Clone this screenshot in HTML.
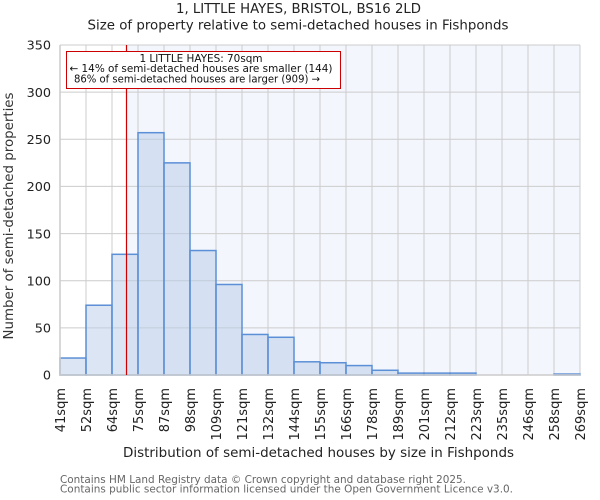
<!DOCTYPE html>
<html><head><meta charset="utf-8"><style>
html,body{margin:0;padding:0;background:#fff;}
svg{display:block;font-family:"DejaVu Sans","Liberation Sans",sans-serif;}
</style></head><body>
<svg width="600" height="500" viewBox="0 0 600 500" xmlns="http://www.w3.org/2000/svg">
<rect x="0" y="0" width="600" height="500" fill="#fff"/>
<!-- shaded region right of property line -->
<rect x="126.5" y="45" width="453.5" height="330" fill="#f3f6fd"/>
<!-- grid -->
<g stroke="#cccccc" stroke-width="1">
<line x1="60" y1="45" x2="580" y2="45"/>
<line x1="60" y1="92.14" x2="580" y2="92.14"/>
<line x1="60" y1="139.29" x2="580" y2="139.29"/>
<line x1="60" y1="186.43" x2="580" y2="186.43"/>
<line x1="60" y1="233.57" x2="580" y2="233.57"/>
<line x1="60" y1="280.71" x2="580" y2="280.71"/>
<line x1="60" y1="327.86" x2="580" y2="327.86"/>
<line x1="86" y1="45" x2="86" y2="375"/>
<line x1="112" y1="45" x2="112" y2="375"/>
<line x1="138" y1="45" x2="138" y2="375"/>
<line x1="164" y1="45" x2="164" y2="375"/>
<line x1="190" y1="45" x2="190" y2="375"/>
<line x1="216" y1="45" x2="216" y2="375"/>
<line x1="242" y1="45" x2="242" y2="375"/>
<line x1="268" y1="45" x2="268" y2="375"/>
<line x1="294" y1="45" x2="294" y2="375"/>
<line x1="320" y1="45" x2="320" y2="375"/>
<line x1="346" y1="45" x2="346" y2="375"/>
<line x1="372" y1="45" x2="372" y2="375"/>
<line x1="398" y1="45" x2="398" y2="375"/>
<line x1="424" y1="45" x2="424" y2="375"/>
<line x1="450" y1="45" x2="450" y2="375"/>
<line x1="476" y1="45" x2="476" y2="375"/>
<line x1="502" y1="45" x2="502" y2="375"/>
<line x1="528" y1="45" x2="528" y2="375"/>
<line x1="554" y1="45" x2="554" y2="375"/>
<line x1="580" y1="45" x2="580" y2="375"/>
</g>
<!-- bars -->
<g fill="rgba(183,203,231,0.5)" stroke="#5b8fd6" stroke-width="1.5">
<rect x="60" y="358.03" width="26" height="16.97"/>
<rect x="86" y="305.23" width="26" height="69.77"/>
<rect x="112" y="254.31" width="26" height="120.69"/>
<rect x="138" y="132.69" width="26" height="242.31"/>
<rect x="164" y="162.86" width="26" height="212.14"/>
<rect x="190" y="250.54" width="26" height="124.46"/>
<rect x="216" y="284.49" width="26" height="90.51"/>
<rect x="242" y="334.46" width="26" height="40.54"/>
<rect x="268" y="337.29" width="26" height="37.71"/>
<rect x="294" y="361.8" width="26" height="13.2"/>
<rect x="320" y="362.74" width="26" height="12.26"/>
<rect x="346" y="365.57" width="26" height="9.43"/>
<rect x="372" y="370.29" width="26" height="4.71"/>
<rect x="398" y="373.11" width="26" height="1.89"/>
<rect x="424" y="373.11" width="26" height="1.89"/>
<rect x="450" y="373.11" width="26" height="1.89"/>
<rect x="554" y="374.06" width="26" height="0.94"/>
</g>
<!-- spines -->
<line x1="60" y1="45" x2="60" y2="375.5" stroke="#cccccc" stroke-width="1.5"/>
<line x1="59.5" y1="375" x2="580.5" y2="375" stroke="#cccccc" stroke-width="1.5"/>
<!-- property line -->
<line x1="126.5" y1="45" x2="126.5" y2="375" stroke="#cc0000" stroke-width="1.2"/>
<!-- annotation -->
<rect x="66.5" y="51.5" width="274" height="37" fill="#fff" stroke="#cc0000" stroke-width="1"/>
<g font-size="10.4" fill="#111" text-anchor="middle">
<text x="201" y="62" textLength="123" lengthAdjust="spacingAndGlyphs">1 LITTLE HAYES: 70sqm</text>
<text x="201" y="72" textLength="263" lengthAdjust="spacingAndGlyphs">← 14% of semi-detached houses are smaller (144)</text>
<text x="197" y="82.3" textLength="246" lengthAdjust="spacingAndGlyphs">86% of semi-detached houses are larger (909) →</text>
</g>
<!-- title -->
<g fill="#222" text-anchor="middle" font-size="13">
<text x="298.5" y="13" textLength="245" lengthAdjust="spacingAndGlyphs">1, LITTLE HAYES, BRISTOL, BS16 2LD</text>
<text x="298" y="29.5" textLength="421" lengthAdjust="spacingAndGlyphs">Size of property relative to semi-detached houses in Fishponds</text>
</g>
<!-- y ticks -->
<g fill="#222" text-anchor="end" font-size="12.8">
<text x="51" y="49.7">350</text>
<text x="51" y="96.8">300</text>
<text x="51" y="144">250</text>
<text x="51" y="191.1">200</text>
<text x="51" y="238.3">150</text>
<text x="51" y="285.4">100</text>
<text x="51" y="332.6">50</text>
<text x="51" y="379.7">0</text>
</g>
<!-- y label -->
<text transform="translate(13,216) rotate(-90)" text-anchor="middle" font-size="13" fill="#333" textLength="247" lengthAdjust="spacingAndGlyphs">Number of semi-detached properties</text>
<!-- x ticks -->
<g fill="#222" text-anchor="end" font-size="13">
<text transform="translate(64.75,388) rotate(-90)">41sqm</text>
<text transform="translate(90.75,388) rotate(-90)">52sqm</text>
<text transform="translate(116.75,388) rotate(-90)">64sqm</text>
<text transform="translate(142.75,388) rotate(-90)">75sqm</text>
<text transform="translate(168.75,388) rotate(-90)">87sqm</text>
<text transform="translate(194.75,388) rotate(-90)">98sqm</text>
<text transform="translate(220.75,388) rotate(-90)">109sqm</text>
<text transform="translate(246.75,388) rotate(-90)">121sqm</text>
<text transform="translate(272.75,388) rotate(-90)">132sqm</text>
<text transform="translate(298.75,388) rotate(-90)">144sqm</text>
<text transform="translate(324.75,388) rotate(-90)">155sqm</text>
<text transform="translate(350.75,388) rotate(-90)">166sqm</text>
<text transform="translate(376.75,388) rotate(-90)">178sqm</text>
<text transform="translate(402.75,388) rotate(-90)">189sqm</text>
<text transform="translate(428.75,388) rotate(-90)">201sqm</text>
<text transform="translate(454.75,388) rotate(-90)">212sqm</text>
<text transform="translate(480.75,388) rotate(-90)">223sqm</text>
<text transform="translate(506.75,388) rotate(-90)">235sqm</text>
<text transform="translate(532.75,388) rotate(-90)">246sqm</text>
<text transform="translate(558.75,388) rotate(-90)">258sqm</text>
<text transform="translate(584.75,388) rotate(-90)">269sqm</text>
</g>
<!-- x label -->
<text x="318.5" y="457" text-anchor="middle" font-size="13" fill="#222" textLength="391" lengthAdjust="spacingAndGlyphs">Distribution of semi-detached houses by size in Fishponds</text>
<!-- footer -->
<g fill="#666" font-size="10.8">
<text x="60" y="483" textLength="406" lengthAdjust="spacingAndGlyphs">Contains HM Land Registry data © Crown copyright and database right 2025.</text>
<text x="60" y="492.5" textLength="453" lengthAdjust="spacingAndGlyphs">Contains public sector information licensed under the Open Government Licence v3.0.</text>
</g>
</svg>
</body></html>
